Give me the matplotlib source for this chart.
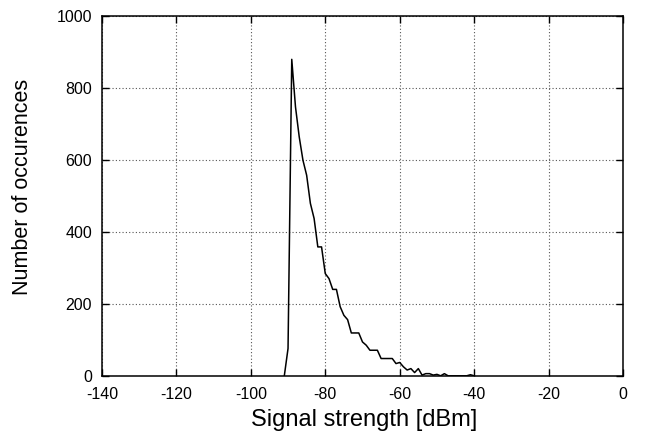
import matplotlib
matplotlib.use("Agg")
import matplotlib.pyplot as plt

signal_dbm = [-91, -90, -89, -88, -87, -86, -85, -84, -83, -82, -81, -80,
              -79, -78, -77, -76, -75, -74, -73, -72, -71, -70, -69, -68,
              -67, -66, -65, -64, -63, -62, -61, -60, -59, -58, -57, -56,
              -55, -54, -53, -52, -51, -50, -49, -48, -47, -46, -45, -44,
              -43, -42, -41, -40]
occurrences = [0, 76, 879, 747, 664, 599, 557, 479, 437, 358, 358, 284,
               270, 240, 240, 192, 168, 156, 119, 119, 119, 94, 85, 71,
               71, 71, 48, 48, 48, 48, 34, 37, 25, 16, 20, 9,
               20, 2, 6, 6, 2, 4, 0, 6, 0, 0, 0, 0,
               0, 0, 3, 0]

x_ticks = [-140, -120, -100, -80, -60, -40, -20, 0]
y_ticks = [0, 200, 400, 600, 800, 1000]

plt.rcParams['font.family'] = ['Liberation Sans', 'DejaVu Sans']

fig = plt.figure(figsize=(6.45, 4.38), dpi=100)
ax = fig.add_axes([0.158, 0.142, 0.808, 0.822])

ax.plot(signal_dbm, occurrences, color='black', linewidth=1.1)

ax.set_xlim(-140, 0)
ax.set_ylim(0, 1000)
ax.set_xticks(x_ticks)
ax.set_yticks(y_ticks)
ax.set_xticklabels([str(v) for v in x_ticks])
ax.set_yticklabels([str(v) for v in y_ticks])

ax.grid(True, linestyle=(0, (1, 2)), color='#555555', linewidth=0.8)
ax.set_axisbelow(True)
ax.tick_params(direction='in', top=True, right=True, length=5, width=1,
               labelsize=11.5)
ax.tick_params(axis='x', pad=8)
ax.tick_params(axis='y', pad=7)
for s in ax.spines.values():
    s.set_linewidth(1.1)

ax.set_xlabel('Signal strength [dBm]', fontsize=17)
ax.xaxis.label.set_va('baseline')
ax.xaxis.set_label_coords(0.504, -0.1397)
ax.set_ylabel('Number of occurences', fontsize=15.5)
ax.yaxis.set_label_coords(-0.132, 0.525)

fig.savefig('out.png', dpi=100)
